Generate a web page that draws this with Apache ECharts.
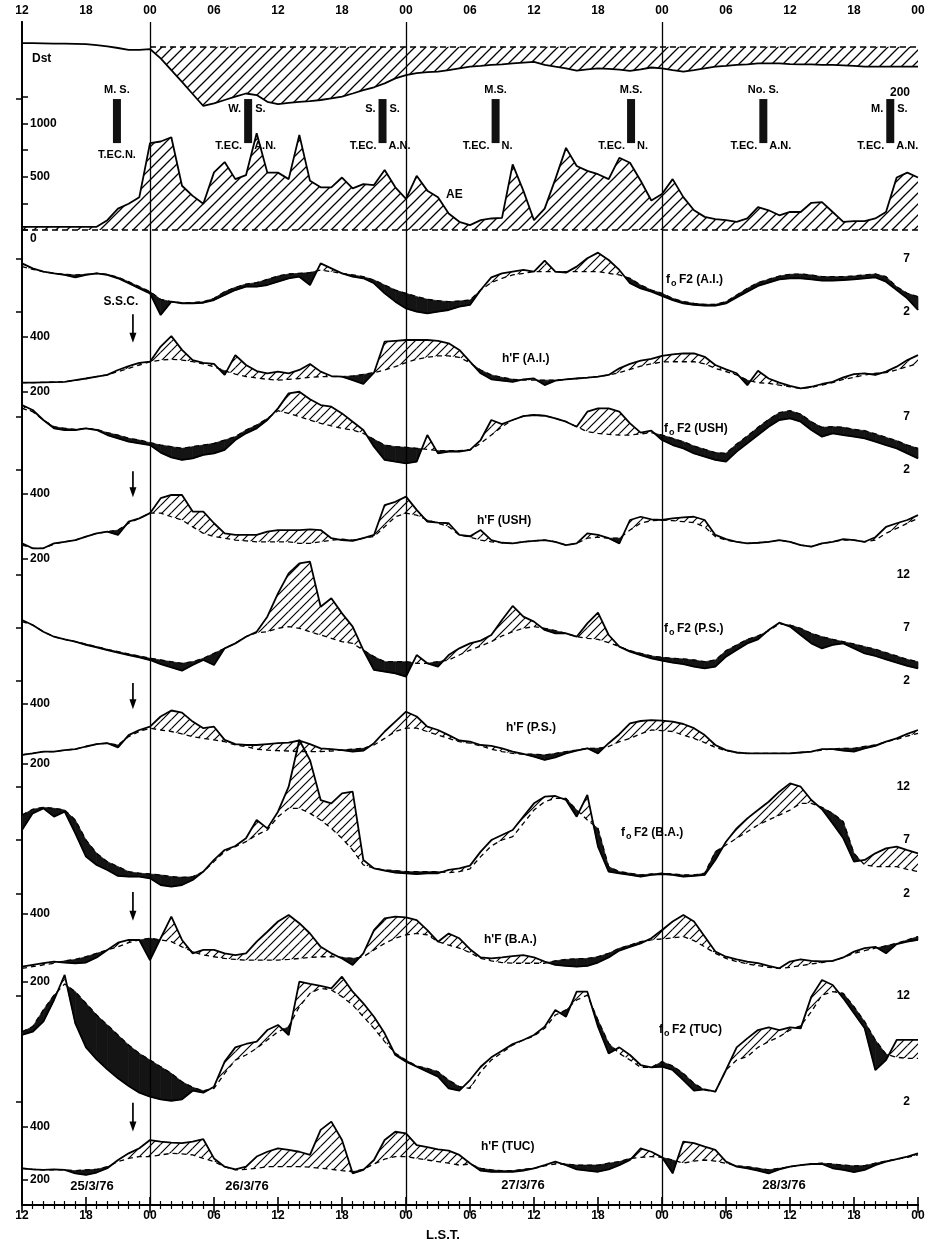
<!DOCTYPE html>
<html><head><meta charset="utf-8">
<script src="https://cdn.jsdelivr.net/npm/echarts@6/dist/echarts.min.js"></script>
<style>html,body{margin:0;padding:0;background:#fff}#c{width:934px;height:1246px}</style>
</head><body><div id="c"></div>
<script>
// ---------------- DATA ----------------
// hours since 12 LST on 25/3/76
const hours = [0,1,2,3,4,5,6,7,8,9,10,11,12,13,14,15,16,17,18,19,20,21,22,23,24,25,26,27,28,29,30,31,32,33,34,35,36,37,38,39,40,41,42,43,44,45,46,47,48,49,50,51,52,53,54,55,56,57,58,59,60,61,62,63,64,65,66,67,68,69,70,71,72,73,74,75,76,77,78,79,80,81,82,83,84];
const tickLabels = ['12','18','00','06','12','18','00','06','12','18','00','06','12','18','00'];
const midnightHours = [12, 36, 60];
const dateLabels = ['25/3/76','26/3/76','27/3/76','28/3/76'];

const aeValues = [30,30,30,30,30,30,30,30,92,200,246,308,
 815,830,870,415,320,246,540,637,477,514,908,538,
 538,477,892,461,400,400,492,390,430,421,563,400,
 292,508,369,308,154,77,
 46,92,108,114,615,369,92,200,477,770,600,554,
 523,477,677,631,462,277,338,477,308,185,123,102,
 92,77,108,215,185,138,169,169,255,262,169,77,
 83,83,108,169,492,538,492];
const dstValues = [14,14,13,12,12,11,10,6,1,-5,-12,-12,-9,
 -45,-90,-135,-182,-228,-218,-205,-192,-180,-186,-212,-221,
 -216,-212,-209,-205,-199,-192,-180,-167,-156,-141,-122,-109,
 -102,-98,-96,-90,-83,
 -77,-74,-70,-68,-64,-61,-58,-70,-77,-83,-92,-87,
 -83,-85,-88,-93,-87,-80,-83,-90,-96,-90,-83,-77,
 -74,-70,-68,-64,-64,-64,-67,-68,-68,-70,-70,-72,
 -74,-77,-77,-77,-77,-77,-77];

const phaseHours = [8.9, 21.2, 33.8, 44.4, 57.1, 69.5, 81.4];
const phaseTop = ['M. S.', 'W.|S.', 'S.|S.', 'M.S.', 'M.S.', 'No. S.', 'M.|S.'];
const phaseBottom = ['T.EC.N.', 'T.EC.|A.N.', 'T.EC.|A.N.', 'T.EC.|N.', 'T.EC.|N.', 'T.EC.|A.N.', 'T.EC.|A.N.'];
const sscHour = 10.4;

// foF2 (MHz) and h'F (km): observed and quiet reference
const foF2AIObs = [6.53,6.06,5.75,5.59,5.44,5.22,5.44,5.59,5.44,5.13,4.66,4.19,
 3.72,1.69,2.94,2.78,2.78,2.84,3.09,3.56,4.03,4.34,4.34,4.5,
 4.81,5.13,5.28,4.5,6.53,6.06,5.59,5.28,5.13,4.66,3.72,2.94,
 2.31,2.0,1.84,2.0,2.16,2.47,2.63,4.03,5.22,5.59,5.75,5.91,
 5.75,6.78,5.75,5.66,6.22,7.0,7.53,6.84,5.91,4.66,4.19,3.88,
 3.47,3.09,2.78,2.63,2.56,2.56,2.78,3.34,3.88,4.41,4.72,5.03,
 5.13,5.13,5.03,4.91,4.91,4.97,5.03,5.13,5.22,4.81,4.03,3.25,2.16];
const foF2AIMed = [6.22,5.97,5.75,5.59,5.5,5.44,5.5,5.59,5.5,5.22,4.81,4.34,
 3.88,3.16,2.94,2.84,2.84,2.94,3.25,3.88,4.28,4.59,4.72,5.03,
 5.34,5.53,5.59,5.66,5.91,5.75,5.59,5.44,5.28,4.97,4.5,4.03,
 3.72,3.41,3.16,3.03,2.94,3.0,3.09,4.03,4.72,5.13,5.44,5.59,
 5.75,5.75,5.75,5.75,5.75,5.75,5.75,5.59,5.44,5.13,4.5,4.03,
 3.72,3.25,2.94,2.78,2.69,2.69,2.94,3.56,4.19,4.72,5.03,5.34,
 5.5,5.53,5.44,5.28,5.28,5.28,5.34,5.44,5.53,5.28,4.34,3.72,3.41];
const hFAIObs = [233,233,234,235,236,242,248,255,261,279,293,305,
 309,364,402,352,315,305,301,261,333,297,275,267,
 273,267,279,301,273,257,255,242,228,269,382,385,
 388,388,388,385,376,352,309,267,245,240,236,245,
 248,224,240,245,248,251,255,261,285,301,313,319,
 330,336,339,339,327,297,281,267,224,276,248,233,
 221,212,218,228,236,252,264,267,261,273,291,315,333];
const hFAIMed = [233,233,234,235,236,242,248,255,261,273,285,297,
 309,315,318,315,309,301,291,276,264,255,250,245,
 242,245,248,252,255,255,255,257,263,269,279,291,
 306,318,325,330,330,325,305,279,261,252,245,242,
 242,242,242,245,248,251,255,261,269,281,293,301,
 308,309,309,309,301,285,273,261,242,233,230,224,
 218,212,216,224,233,245,252,261,267,269,279,291,303];
const foF2USHObs = [8.09,7.63,6.69,5.91,5.75,5.75,5.91,5.75,5.28,4.97,4.66,4.5,
 4.34,3.63,3.19,2.94,3.09,3.41,3.56,3.88,4.81,5.44,5.91,6.69,
 7.78,9.19,9.34,8.63,8.09,7.94,7.31,6.53,5.75,4.19,2.94,2.78,
 2.63,2.78,5.28,3.56,3.72,3.72,3.88,4.81,6.69,6.31,6.69,7.06,
 7.16,7.09,6.84,6.53,6.06,7.47,7.78,7.78,7.47,6.38,5.5,5.69,
 4.81,4.34,4.03,3.56,3.25,2.94,2.78,3.72,4.5,5.28,6.06,6.69,
 6.84,6.53,5.75,5.13,5.44,5.28,5.13,4.97,4.66,4.34,4.03,3.56,3.09];
const foF2USHMed = [7.78,7.47,6.69,6.06,5.91,5.81,5.91,5.81,5.5,5.28,4.97,4.81,
 4.56,4.34,4.19,4.03,4.19,4.34,4.5,4.81,5.13,5.75,6.22,6.84,
 7.56,7.31,7.0,6.69,6.38,6.13,5.91,5.75,5.44,4.88,4.34,4.19,
 4.13,4.03,3.94,3.81,3.81,3.81,3.88,4.5,5.28,6.06,6.69,7.06,
 7.16,7.09,6.84,6.53,6.06,5.59,5.44,5.34,5.28,5.28,5.38,5.5,
 5.28,4.97,4.66,4.25,3.94,3.63,3.56,4.44,5.19,6.0,6.75,7.38,
 7.56,7.25,6.53,6.0,6.06,6.0,5.81,5.69,5.38,5.06,4.75,4.34,4.03];
const hFUSHObs = [248,233,233,248,253,258,269,279,284,274,315,325,
 341,387,397,397,346,346,310,279,274,274,274,284,
 289,289,289,291,289,264,258,256,264,274,366,376,
 392,351,315,312,310,274,270,289,258,250,248,253,
 256,258,253,243,248,279,274,264,248,320,330,322,
 320,325,328,330,320,274,261,253,248,250,253,258,
 253,243,238,248,253,261,258,253,267,299,310,320,335];
const hFUSHMed = [243,233,233,246,253,258,269,279,284,289,310,325,
 341,341,330,320,299,279,269,264,258,256,253,253,
 253,253,248,248,253,258,261,258,264,269,299,330,
 341,335,320,310,299,274,267,258,253,250,248,253,
 256,258,253,243,248,264,267,264,264,289,310,318,
 320,318,315,312,299,269,258,253,248,250,253,258,
 253,243,238,248,253,258,258,253,258,279,294,310,325];
const foF2PSObs = [7.75,7.28,6.65,6.18,5.93,5.71,5.4,5.18,4.92,4.67,4.45,4.23,
 3.98,3.6,3.29,2.97,3.51,3.98,3.51,5.08,5.55,6.18,6.65,8.07,
 10.27,12.16,13.1,13.26,9.01,9.8,8.38,7.13,4.92,3.04,2.88,2.72,
 2.41,4.45,3.67,3.35,4.45,5.08,5.55,5.81,6.34,7.75,9.08,8.07,
 7.6,6.81,6.5,6.5,6.18,7.44,8.45,6.34,5.24,4.77,4.45,4.14,
 3.92,3.73,3.6,3.35,3.19,3.35,4.3,4.92,5.55,5.93,6.81,7.5,
 7.13,6.34,5.55,5.08,5.4,5.55,5.08,4.61,4.36,4.04,3.73,3.42,3.19];
const foF2PSMed = [7.6,7.28,6.65,6.18,5.93,5.71,5.49,5.24,4.99,4.77,4.55,4.36,
 4.14,3.98,3.82,3.67,3.82,4.14,4.61,5.08,5.55,6.18,6.56,6.65,
 6.97,7.13,6.97,6.65,6.34,6.03,5.71,5.55,4.92,4.3,3.82,3.82,
 3.82,3.67,3.67,3.82,3.98,4.45,4.92,5.3,5.71,6.25,6.65,6.97,
 7.13,6.97,6.75,6.5,6.18,6.03,5.93,5.62,5.24,4.86,4.61,4.36,
 4.23,4.14,4.08,3.98,3.82,3.98,4.86,5.4,5.93,6.25,6.75,7.38,
 7.28,6.97,6.5,6.18,5.93,5.71,5.49,5.24,4.99,4.67,4.36,4.04,3.82];
const hFPSObs = [228,233,239,239,244,247,256,264,267,253,294,311,
 322,356,376,369,339,317,322,278,264,261,261,264,
 267,269,276,264,250,247,244,239,242,267,306,339,
 372,356,322,311,294,276,272,261,258,250,239,231,
 222,211,220,233,242,250,233,267,297,333,341,344,
 342,339,331,317,294,261,244,236,233,233,233,233,
 233,236,239,247,247,242,239,250,258,272,283,298,311];
const hFPSMed = [228,233,239,239,244,247,256,264,267,261,289,306,
 317,311,306,298,289,283,278,272,261,256,247,244,
 242,241,239,239,239,241,244,247,250,261,283,306,
 317,317,306,294,283,272,267,258,247,239,233,231,
 230,228,233,239,244,250,250,256,272,283,298,311,
 309,306,294,283,269,253,242,236,233,233,233,233,
 233,236,239,244,248,250,250,256,261,272,280,291,300];
const foF2BAObs = [7.94,9.5,9.97,9.19,9.66,7.63,5.44,4.66,4.19,3.63,3.56,3.56,
 3.41,2.78,2.63,2.78,3.25,4.03,5.13,6.06,6.44,7.16,8.88,8.09,
 9.66,12.0,16.38,14.5,10.75,10.44,11.38,11.53,5.13,4.34,4.13,3.94,
 3.88,3.81,3.88,3.88,4.19,4.34,4.6,5.91,7.0,7.47,7.94,9.19,
 10.44,11.06,11.13,10.75,9.19,11.22,6.38,4.03,3.88,3.72,3.56,3.72,
 3.81,3.72,3.56,3.63,3.72,5.13,6.84,8.09,9.03,9.81,10.59,11.53,
 12.31,12.0,10.75,9.88,8.56,7.16,4.97,5.13,5.75,6.22,6.38,6.06,5.75];
const foF2BAMed = [9.34,9.88,10.06,9.97,9.81,8.88,7.0,5.75,4.97,4.5,4.03,3.88,
 3.81,3.72,3.56,3.5,3.56,4.03,4.97,5.91,6.38,6.84,7.47,7.94,
 9.19,9.97,9.97,9.5,8.88,8.09,7.16,6.06,4.66,4.34,4.19,4.13,
 4.03,4.03,4.03,4.03,3.94,4.03,4.3,5.44,6.44,7.0,7.31,8.56,
 9.81,10.59,10.91,10.91,9.81,8.88,8.09,4.5,4.03,3.88,3.72,3.81,
 3.88,3.81,3.72,3.72,3.88,5.91,6.53,7.16,7.78,8.41,8.88,9.34,
 9.81,10.44,10.44,10.06,9.5,8.72,5.75,4.66,4.5,4.5,4.5,4.25,4.03];
const hFBAObs = [244,249,254,259,256,254,256,271,293,314,322,322,
 263,327,390,322,283,293,293,283,278,283,317,346,
 376,395,371,341,302,283,268,249,283,351,385,390,
 388,380,351,317,341,327,295,271,268,271,275,278,
 271,259,249,246,244,246,256,271,291,302,312,327,
 351,376,395,376,332,288,273,265,259,254,246,239,
 259,265,261,259,261,271,288,298,302,283,310,317,322];
const hFBAMed = [239,244,249,254,261,265,273,283,293,302,314,322,
 327,322,317,302,288,278,273,268,265,263,263,263,
 263,265,268,271,273,273,271,268,273,293,312,327,
 337,341,337,317,307,298,285,268,261,256,254,254,
 254,254,261,265,267,268,273,283,298,307,317,322,
 325,328,332,320,302,283,268,259,252,247,242,239,
 242,247,252,256,261,271,283,291,298,305,312,322,332];
const foF2TUCObs = [8.31,8.62,9.57,11.62,13.99,9.41,7.14,6.01,5.06,4.21,3.48,2.85,
 2.47,2.22,2.09,2.22,3.04,2.85,3.42,5.79,7.14,7.46,7.68,8.78,
 9.26,8.31,13.36,13.14,12.95,12.73,13.83,12.41,11.31,10.04,8.47,6.42,
 5.79,5.31,4.84,4.37,3.26,3.04,4.05,5.31,6.2,6.83,7.46,7.84,
 8.31,9.1,10.68,10.04,12.41,12.41,9.1,6.57,7.14,6.42,5.47,5.25,
 5.31,5.0,4.05,3.04,3.17,2.95,5.0,7.14,7.99,8.78,9.03,8.78,
 9.03,8.94,11.94,13.51,13.04,11.78,10.36,8.94,5.0,5.94,7.84,7.84,7.84];
const foF2TUCMed = [8.62,9.1,10.68,12.09,13.14,12.41,11.31,10.2,9.26,8.31,7.36,6.57,
 5.94,5.31,4.68,3.89,3.36,3.04,3.26,4.68,5.94,6.42,7.05,7.84,
 8.62,9.1,10.99,12.25,12.73,12.57,11.94,11.15,10.04,8.94,7.68,6.57,
 5.94,5.38,5.15,4.84,4.05,3.42,3.26,4.84,5.94,6.64,7.36,7.84,
 8.21,8.94,10.2,10.68,11.62,12.09,9.73,7.52,6.57,5.94,5.25,5.25,
 5.79,5.38,4.68,3.74,3.1,2.95,5.0,5.94,6.26,7.14,7.68,8.15,
 8.78,9.19,10.52,12.09,12.41,12.25,10.99,9.57,7.84,6.5,6.2,6.1,6.1];
const hFTUCObs = [244,240,238,240,238,225,219,228,244,275,300,319,
 350,344,340,338,344,353,281,250,240,250,288,306,
 319,313,306,294,388,419,350,225,238,275,350,381,
 375,331,323,315,310,294,263,235,231,231,231,235,
 244,256,269,256,240,235,231,240,256,275,319,306,
 285,225,344,338,325,313,269,250,244,235,225,240,
 250,256,260,260,244,238,230,238,256,269,278,288,300];
const hFTUCMed = [244,240,238,238,238,235,238,240,250,269,281,288,
 288,294,300,298,294,281,269,250,238,240,244,250,
 250,250,250,248,244,240,235,231,240,260,278,288,
 288,281,275,269,263,256,260,244,238,235,235,240,
 244,253,260,260,256,256,256,263,269,281,285,288,
 285,275,263,271,275,271,263,253,250,244,238,244,
 250,256,260,263,260,256,253,254,263,271,278,285,294];

const panels = [
  {kind:'foF2', station:'A.I.', obs:foF2AIObs, med:foF2AIMed},
  {kind:'hF', station:'A.I.', obs:hFAIObs, med:hFAIMed},
  {kind:'foF2', station:'USH', obs:foF2USHObs, med:foF2USHMed},
  {kind:'hF', station:'USH', obs:hFUSHObs, med:hFUSHMed},
  {kind:'foF2', station:'P.S.', obs:foF2PSObs, med:foF2PSMed},
  {kind:'hF', station:'P.S.', obs:hFPSObs, med:hFPSMed},
  {kind:'foF2', station:'B.A.', obs:foF2BAObs, med:foF2BAMed},
  {kind:'hF', station:'B.A.', obs:hFBAObs, med:hFBAMed},
  {kind:'foF2', station:'TUC', obs:foF2TUCObs, med:foF2TUCMed},
  {kind:'hF', station:'TUC', obs:hFTUCObs, med:hFTUCMed}
];

// ---------------- LAYOUT / STYLE ----------------
const L = 22, R = 16;
const panelLayout = [
  {top:258.3, height:53.4, min:2, max:7, side:'right', ticks:[2,7], lx:666, ly:280},
  {top:336.7, height:55, min:200, max:400, side:'left', ticks:[200,400], lx:502, ly:359, arrow:[482,378], ssc:true},
  {top:416.7, height:53.3, min:2, max:7, side:'right', ticks:[2,7], lx:664, ly:429},
  {top:494, height:65, min:200, max:400, side:'left', ticks:[200,400], lx:477, ly:521, arrow:[470,390]},
  {top:575, height:106, min:2, max:12, side:'right', ticks:[2,7,12], lx:664, ly:629},
  {top:703.3, height:60, min:200, max:400, side:'left', ticks:[200,400], lx:506, ly:728, arrow:[468,380]},
  {top:786.7, height:106.6, min:2, max:12, side:'right', ticks:[2,7,12], lx:621, ly:833},
  {top:913.3, height:68.4, min:200, max:400, side:'left', ticks:[200,400], lx:484, ly:940, arrow:[462,378]},
  {top:996, height:105.7, min:2, max:12, side:'right', ticks:[2,12], lx:659, ly:1030},
  {top:1126.7, height:53.3, min:200, max:400, side:'left', ticks:[200,400], lx:481, ly:1147, arrow:[490,382]}
];
const datePos = [[92,1186],[247,1186],[523,1185],[784,1185]];
const PHASE_LO = 815, PHASE_HI = 1228;
const FONT = '"Liberation Sans", Arial, sans-serif';
const BOLD = 'bold 12px ' + FONT;

function hatch(size, lw){
  const c = document.createElement('canvas'); c.width = size; c.height = size;
  const g = c.getContext('2d'); g.strokeStyle = '#000'; g.lineWidth = lw;
  g.beginPath();
  g.moveTo(-1, size+1); g.lineTo(size+1, -1);
  g.moveTo(-size/2-1, size/2+1); g.lineTo(size/2+1, -size/2-1);
  g.moveTo(size/2-1, size*1.5+1); g.lineTo(size*1.5+1, size/2-1);
  g.stroke();
  return c;
}
const hatchPanel = {image: hatch(9, 1.2), repeat: 'repeat'};
const hatchTop = {image: hatch(11, 1.3), repeat: 'repeat'};
const BLACK_FILL = '#141414';

const grids = [], xAxes = [], yAxes = [], series = [], graphics = [];
// frame grid (0)
grids.push({left:L, right:R, top:22, bottom:41, containLabel:false});
const xBase = {type:'value', min:0, max:84, interval:6, gridIndex:0,
  axisLine:{show:true, lineStyle:{color:'#000', width:1.8}},
  axisTick:{show:true, inside:true, length:8, lineStyle:{color:'#000', width:1.6}},
  minorTick:{show:true, splitNumber:6, length:4, lineStyle:{color:'#000', width:1.2}},
  splitLine:{show:false},
  axisLabel:{color:'#000', fontWeight:'bold', fontSize:12, fontFamily:FONT, margin:5,
    formatter: v => tickLabels[Math.round(v/6)]}};
xAxes.push(Object.assign({}, xBase, {position:'top'}));
xAxes.push(Object.assign({}, xBase, {position:'bottom'}));
yAxes.push({gridIndex:0, type:'value', min:0, max:1, position:'left', axisLine:{show:true, lineStyle:{color:'#000', width:1.8}}, axisTick:{show:false}, axisLabel:{show:false}, splitLine:{show:false}});
yAxes.push({gridIndex:0, type:'value', min:0, max:1, position:'right', axisLine:{show:true, lineStyle:{color:'#000', width:1.8}}, axisTick:{show:false}, axisLabel:{show:false}, splitLine:{show:false}});
series.push({type:'line', xAxisIndex:0, yAxisIndex:0, data:[[0,0.5]], symbol:'none', lineStyle:{opacity:0}, silent:true,
  markLine:{silent:true, symbol:'none', label:{show:false}, lineStyle:{color:'#000', width:1.3, type:'solid'},
    data: midnightHours.map(h => ({xAxis:h}))}});

function hiddenX(g){ return {gridIndex:g, type:'value', min:0, max:84, show:false}; }
const labelStyle = {color:'#000', fontWeight:'bold', fontSize:12, fontFamily:FONT};

// area between a curve and zero, drawn as one polygon
function zeroFill(values, startIdx, fill){
  return function(params, api){
    const pts = [api.coord([hours[startIdx], 0])];
    for (let i = startIdx; i < hours.length; i++) pts.push(api.coord([hours[i], values[i]]));
    pts.push(api.coord([hours[hours.length-1], 0]));
    return {type:'polygon', shape:{points:pts}, style:{fill:fill}};
  };
}
// fill between observed and reference, hatched where obs > ref, black where obs < ref
function devFill(obs, med){
  return function(params, api){
    const i = params.dataIndex;
    const d0 = obs[i]-med[i], d1 = obs[i+1]-med[i+1];
    const O0 = api.coord([hours[i], obs[i]]), O1 = api.coord([hours[i+1], obs[i+1]]);
    const M0 = api.coord([hours[i], med[i]]), M1 = api.coord([hours[i+1], med[i+1]]);
    const kids = [];
    const poly = (pts, pos) => kids.push({type:'polygon', shape:{points:pts},
      style: pos ? {fill:hatchPanel} : {fill:BLACK_FILL, stroke:BLACK_FILL, lineWidth:0.7}});
    if (d0 >= 0 && d1 >= 0) poly([O0,O1,M1,M0], true);
    else if (d0 <= 0 && d1 <= 0) poly([O0,O1,M1,M0], false);
    else {
      const t = d0/(d0-d1);
      const C = [O0[0]+(O1[0]-O0[0])*t, O0[1]+(O1[1]-O0[1])*t];
      poly([O0,C,M0], d0 > 0); poly([C,O1,M1], d1 > 0);
    }
    return {type:'group', children:kids};
  };
}
// S.S.C. arrow, drawn in the h'F panel's own scale
function sscArrow(topV, botV, withLabel){
  return function(params, api){
    const a = api.coord([sscHour, topV]), b = api.coord([sscHour, botV]);
    const kids = [
      {type:'line', shape:{x1:a[0], y1:a[1], x2:b[0], y2:b[1]-7}, style:{stroke:'#000', lineWidth:1.7}},
      {type:'polygon', shape:{points:[[b[0]-3.5, b[1]-10],[b[0]+3.5, b[1]-10],[b[0], b[1]]]}, style:{fill:'#000'}}
    ];
    if (withLabel) kids.push({type:'text', x:a[0]-12, y:a[1]-12,
      style:{text:'S.S.C.', font:BOLD, fill:'#000', align:'center', verticalAlign:'middle'}});
    return {type:'group', children:kids};
  };
}

// Dst grid (1)
grids.push({left:L, right:R, top:33.7, height:78, containLabel:false});
xAxes.push(hiddenX(1));
yAxes.push({gridIndex:1, type:'value', min:-250, max:50, position:'right', axisLine:{show:false}, splitLine:{show:false},
  axisTick:{show:true, inside:true, length:6, customValues:[-200], lineStyle:{color:'#000', width:1.5}},
  axisLabel:Object.assign({inside:true, margin:8, customValues:[-200], formatter: v => String(-v), verticalAlign:'bottom'}, labelStyle)});
series.push({type:'custom', xAxisIndex:2, yAxisIndex:2, silent:true, data:[[12,0]], renderItem: zeroFill(dstValues, 12, hatchTop)});
series.push({type:'line', xAxisIndex:2, yAxisIndex:2, data: hours.map((h,i)=>[h, dstValues[i]]),
  symbol:'none', lineStyle:{color:'#000', width:1.8}, silent:true, clip:false,
  markLine:{silent:true, symbol:'none', label:{show:false}, lineStyle:{color:'#000', width:1.5, type:[6,4]},
    data:[[{coord:[12,0]},{coord:[84,0]}]]}});

// AE grid (2)
grids.push({left:L, right:R, top:96.7, height:133.3, containLabel:false});
xAxes.push(hiddenX(2));
yAxes.push({gridIndex:2, type:'value', min:0, max:1250, position:'left', axisLine:{show:false}, splitLine:{show:false},
  axisTick:{show:true, inside:true, length:6, customValues:[0,250,500,750,1000,1250], lineStyle:{color:'#000', width:1.5}},
  axisLabel:Object.assign({inside:true, margin:8, customValues:[0,500,1000],
    formatter: v => v === 0 ? '{z|0}' : String(v), rich:{z:{padding:[18,0,0,0], fontWeight:'bold', fontSize:12, fontFamily:FONT, color:'#000'}}}, labelStyle)});
series.push({type:'custom', xAxisIndex:3, yAxisIndex:3, silent:true, data:[[0,0]], renderItem: zeroFill(aeValues, 0, hatchTop)});
series.push({type:'line', xAxisIndex:3, yAxisIndex:3, data: hours.map((h,i)=>[h, aeValues[i]]),
  symbol:'none', lineStyle:{color:'#000', width:1.8}, silent:true, clip:false,
  markLine:{silent:true, symbol:'none', label:{show:false}, lineStyle:{color:'#000', width:1.5, type:[6,4]},
    data:[[{coord:[0,0]},{coord:[84,0]}]]}});
series.push({type:'custom', xAxisIndex:3, yAxisIndex:3, silent:true, z:5,
  data: phaseHours.map(h => [h, PHASE_HI]),
  renderItem: function(params, api){
    const i = params.dataIndex;
    const h = api.value(0);
    const t = api.coord([h, PHASE_HI]), b = api.coord([h, PHASE_LO]);
    const x = t[0];
    const f = 'bold 11px ' + FONT;
    const kids = [{type:'rect', shape:{x:x-4, y:t[1], width:8, height:b[1]-t[1]}, style:{fill:'#111'}}];
    const tp = phaseTop[i].split('|');
    if (tp.length === 2) {
      kids.push({type:'text', x:x-7, y:t[1]+10, style:{text:tp[0], align:'right', verticalAlign:'middle', font:f, fill:'#000'}});
      kids.push({type:'text', x:x+7, y:t[1]+10, style:{text:tp[1], align:'left', verticalAlign:'middle', font:f, fill:'#000'}});
    } else {
      kids.push({type:'text', x:x, y:t[1]-9, style:{text:tp[0], align:'center', verticalAlign:'middle', font:f, fill:'#000'}});
    }
    const bt = phaseBottom[i].split('|');
    if (bt.length === 2) {
      kids.push({type:'text', x:x-6, y:b[1]+3, style:{text:bt[0], align:'right', verticalAlign:'middle', font:f, fill:'#000'}});
      kids.push({type:'text', x:x+6, y:b[1]+3, style:{text:bt[1], align:'left', verticalAlign:'middle', font:f, fill:'#000'}});
    } else {
      kids.push({type:'text', x:x, y:b[1]+12, style:{text:bt[0], align:'center', verticalAlign:'middle', font:f, fill:'#000'}});
    }
    return {type:'group', children:kids};
  }});

// ionospheric panels
panels.forEach((p, n) => {
  const lay = panelLayout[n];
  const g = 3 + n, ax = 4 + n;
  grids.push({left:L, right:R, top:lay.top, height:lay.height, containLabel:false});
  xAxes.push(hiddenX(g));
  yAxes.push({gridIndex:g, type:'value', min:lay.min, max:lay.max, position:lay.side, axisLine:{show:false}, splitLine:{show:false},
    axisTick:{show:true, inside:true, length:6, customValues:lay.ticks, lineStyle:{color:'#000', width:1.5}},
    axisLabel:Object.assign({inside:true, margin:8, customValues:lay.ticks}, labelStyle)});
  const common = {type:'line', xAxisIndex:ax, yAxisIndex:ax, symbol:'none', silent:true, clip:false};
  series.push({type:'custom', xAxisIndex:ax, yAxisIndex:ax, silent:true,
    data: hours.slice(0, hours.length-1).map((h,i) => [h, p.obs[i]]),
    renderItem: devFill(p.obs, p.med)});
  series.push(Object.assign({}, common, {lineStyle:{color:'#000', width:1.3, type:[5,4]},
    data: hours.map((h,i)=>[h, p.med[i]])}));
  series.push(Object.assign({}, common, {lineStyle:{color:'#000', width:1.8},
    data: hours.map((h,i)=>[h, p.obs[i]])}));
  if (lay.arrow) {
    series.push({type:'custom', xAxisIndex:ax, yAxisIndex:ax, silent:true, z:6,
      data:[[sscHour, lay.arrow[1]]], renderItem: sscArrow(lay.arrow[0], lay.arrow[1], !!lay.ssc)});
  }
  if (p.kind === 'foF2') {
    graphics.push({type:'text', x:lay.lx, y:lay.ly, style:{text:'f', font:BOLD, fill:'#000', verticalAlign:'middle'}});
    graphics.push({type:'text', x:lay.lx+5, y:lay.ly+4, style:{text:'o', font:'bold 9px '+FONT, fill:'#000', verticalAlign:'middle'}});
    graphics.push({type:'text', x:lay.lx+13, y:lay.ly, style:{text:'F2 (' + p.station + ')', font:BOLD, fill:'#000', verticalAlign:'middle'}});
  } else {
    graphics.push({type:'text', x:lay.lx, y:lay.ly, style:{text:"h'F (" + p.station + ')', font:BOLD, fill:'#000', verticalAlign:'middle'}});
  }
});

dateLabels.forEach((d,i) => graphics.push({type:'text', x:datePos[i][0], y:datePos[i][1],
  style:{text:d, font:'bold 13px '+FONT, fill:'#000', align:'center', verticalAlign:'middle'}}));
graphics.push({type:'text', x:443, y:1235, style:{text:'L.S.T.', font:'bold 13px '+FONT, fill:'#000', align:'center', verticalAlign:'middle'}});
graphics.push({type:'text', x:32, y:59, style:{text:'Dst', font:BOLD, fill:'#000', verticalAlign:'middle'}});
graphics.push({type:'text', x:446, y:195, style:{text:'AE', font:BOLD, fill:'#000', verticalAlign:'middle'}});

const chart = echarts.init(document.getElementById('c'), null, {renderer:'canvas'});
chart.setOption({
  backgroundColor:'#fff', animation:false,
  grid: grids, xAxis: xAxes, yAxis: yAxes, series: series, graphic: graphics
});
</script></body></html>
